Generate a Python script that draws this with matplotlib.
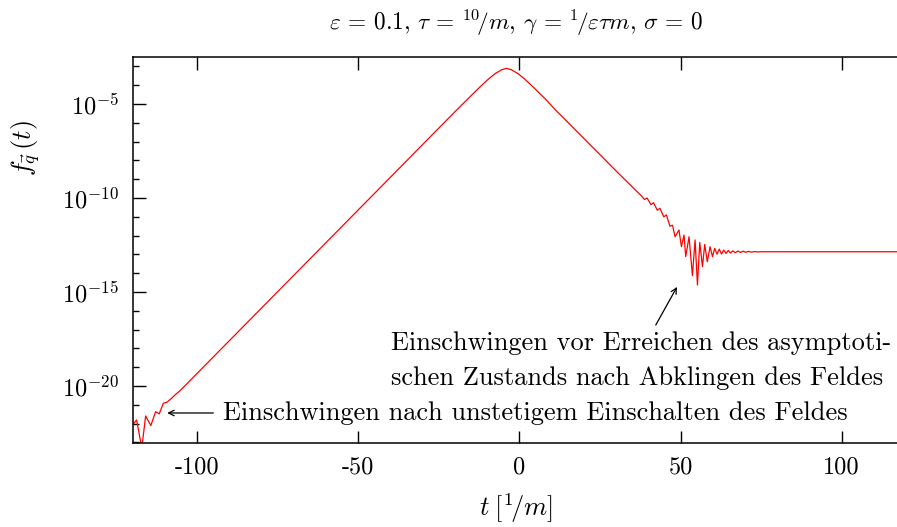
import matplotlib
matplotlib.use("Agg")
import matplotlib.pyplot as plt
import numpy as np

plt.rcParams["font.family"] = "serif"
plt.rcParams["font.serif"] = ["cmr10"]
plt.rcParams["mathtext.fontset"] = "cm"
plt.rcParams["axes.unicode_minus"] = False
plt.rcParams["axes.formatter.use_mathtext"] = True

# ---------------------------------------------------------------------------
# data: t in units of 1/m, log10 of the occupation f_q(t)
# ---------------------------------------------------------------------------
# switch-on transients
t_on = [-120.0, -119.6, -118.8, -117.2, -116.0, -114.4, -112.9, -111.8,
        -110.5, -109.4, -107.9, -106.9, -105.3]
lf_on = [-22.0, -21.98, -21.81, -23.3, -21.6, -22.11, -21.37, -21.49,
         -20.92, -20.87, -20.65, -20.48, -20.25]

# growth, maximum and decay while the field is on
t_main = [-62.3, -19.5, -16.5, -13.5, -11.5, -9.5, -7.5, -5.5,
          -4.0, -2.5, -0.5, 1.5, 3.5, 5.5, 8.5, 11.2,
          12.8, 30.0, 36.0]
lf_main = [-12.77, -5.32, -4.81, -4.30, -3.97, -3.65, -3.375, -3.175,
           -3.10, -3.175, -3.375, -3.65, -3.97, -4.30, -4.81, -5.32,
           -5.59, -8.56, -9.58]

# ringing before the asymptotic state, then the asymptotic value
t_ring = [37.6, 38.8, 39.6, 40.8, 41.6, 42.8, 43.6, 44.8,
          45.6, 46.7, 47.5, 48.3, 49.5, 50.27, 51.07, 51.6,
          52.63, 53.68, 54.5, 55.24, 55.95, 56.79, 57.5, 58.3,
          59.15, 59.9, 60.6, 61.3, 62.0, 62.7, 63.4, 64.1,
          64.8, 65.5, 66.2, 67.0, 67.8, 68.6, 69.4, 70.2,
          71.0, 72.0, 73.0, 74.0, 75.0, 118.0]
lf_ring = [-9.84, -10.08, -10.0, -10.35, -10.25, -10.65, -10.55, -11.0,
           -10.9, -11.5, -11.45, -12.06, -11.70, -12.59, -11.97, -13.12,
           -12.06, -14.13, -12.23, -14.63, -12.36, -13.65, -12.47, -13.39,
           -12.59, -13.12, -12.68, -12.99, -12.72, -12.98, -12.77, -12.95,
           -12.79, -12.93, -12.81, -12.91, -12.82, -12.9, -12.83, -12.89,
           -12.84, -12.88, -12.85, -12.87, -12.86, -12.86]

x_ticks = [-100, -50, 0, 50, 100]
x_tick_labels = ["-100", "-50", "0", "50", "100"]
y_ticks = [1e-20, 1e-15, 1e-10, 1e-5]
y_tick_labels = [r"$10^{-20}$", r"$10^{-15}$", r"$10^{-10}$", r"$10^{-5}$"]

RED = "#ff0000"
FS_TICK = 17.5
FS_TEXT = 19

t_all = np.array(t_on + t_main + t_ring)
f_all = 10.0 ** np.array(lf_on + lf_main + lf_ring)

fig = plt.figure(figsize=(8.97, 5.27), dpi=100)
ax = fig.add_axes([0.148, 0.16, 0.855, 0.731])

ax.plot(t_all, f_all, color=RED, lw=0.9)

ax.set_yscale("log")
ax.set_xlim(-120, 118)
ax.set_ylim(10 ** -23.02, 10 ** -2.52)

ax.set_xticks(x_ticks)
ax.set_xticklabels(x_tick_labels)
ax.set_yticks(y_ticks)
ax.set_yticklabels(y_tick_labels)
ax.yaxis.set_minor_locator(matplotlib.ticker.FixedLocator([10.0 ** k for k in range(-23, -1)]))
ax.yaxis.set_minor_formatter(matplotlib.ticker.NullFormatter())

ax.tick_params(which="major", direction="in", length=9, width=1.0,
               top=True, right=False, labelsize=FS_TICK, pad=10)
ax.tick_params(which="minor", direction="in", length=4.5, width=1.0,
               right=False)
for s in ax.spines.values():
    s.set_linewidth(1.1)
ax.spines["right"].set_visible(False)

ax.set_title(r"$\varepsilon$ = 0.1, $\tau$ = ${}^{10}\!/m$, "
             r"$\gamma$ = ${}^{1}\!/\varepsilon\tau m$, $\sigma$ = 0",
             fontsize=16.8, pad=20)
ax.set_xlabel(r"$t\;[{}^{1}\!/m]$", fontsize=FS_TEXT, labelpad=9)
ax.set_ylabel(r"$f_{\vec{q}}\,(t)$", fontsize=FS_TEXT)
ax.yaxis.set_label_coords(-0.118, 0.765)

arrow = dict(arrowstyle="->", color="black", lw=0.9, shrinkA=0, shrinkB=0)
ax.annotate("", xy=(-109.3, 10 ** -21.44), xytext=(-95.0, 10 ** -21.44),
            arrowprops=arrow)
ax.text(-91.9, 10 ** -21.44, "Einschwingen nach unstetigem Einschalten des Feldes",
        fontsize=FS_TEXT, ha="left", va="center")

ax.annotate("", xy=(48.9, 10 ** -14.73), xytext=(42.3, 10 ** -16.76),
            arrowprops=arrow)
ax.text(-40.0, 10 ** -17.71, "Einschwingen vor Erreichen des asymptoti-",
        fontsize=FS_TEXT, ha="left", va="center")
ax.text(-40.0, 10 ** -19.57, "schen Zustands nach Abklingen des Feldes",
        fontsize=FS_TEXT, ha="left", va="center")

fig.savefig("out.png", dpi=100)
